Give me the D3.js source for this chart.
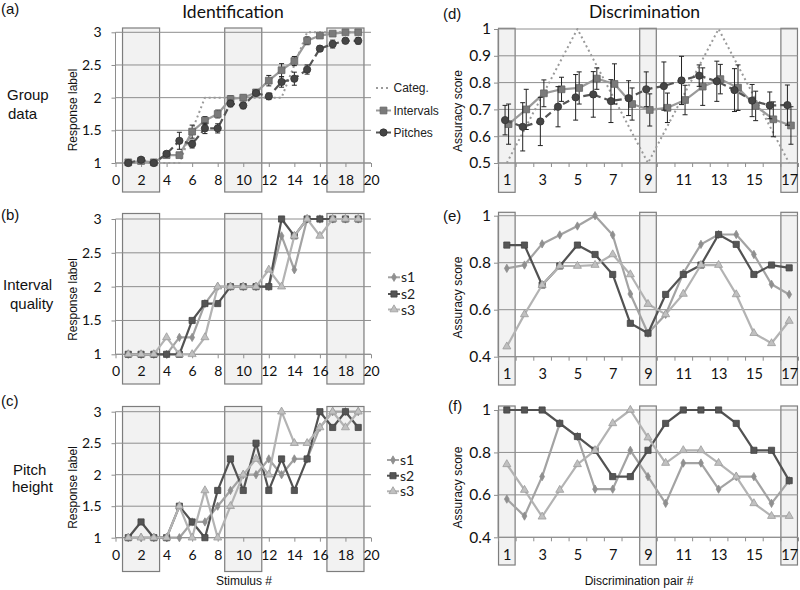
<!DOCTYPE html>
<html><head><meta charset="utf-8">
<script src="https://cdn.jsdelivr.net/npm/d3@7"></script>
<style>body{margin:0;background:#fff}svg{display:block}</style>
</head><body>
<svg id="chart" width="800" height="590"></svg>
<script>
// ---------- DATA ----------
const stimuli = [1,2,3,4,5,6,7,8,9,10,11,12,13,14,15,16,17,18,19];
const pairs = [1,2,3,4,5,6,7,8,9,10,11,12,13,14,15,16,17];
const xTicksLeft = [0,2,4,6,8,10,12,14,16,18,20];
const yTicksLeft = [1,1.5,2,2.5,3];
const xLabelsRight = [1,3,5,7,9,11,13,15,17];
const yTicksD = [0.5,0.6,0.7,0.8,0.9,1];
const yTicksEF = [0.4,0.6,0.8,1];
const boxStimuli = [[1,3],[9,11],[17,19]];
const boxPairs = [1,9,17];
const legendA = ["Categ.","Intervals","Pitches"];
const legendS = ["s1","s2","s3"];

// (a) group identification
const categA     = [1,1,1,1,1,1.5,2,2,2,2,2,2,2,2.5,3,3,3,3,3];
const intervalsA = [1.01,1.03,1.01,1.12,1.12,1.48,1.65,1.75,1.98,2.0,2.08,2.26,2.42,2.56,2.87,2.95,2.98,3.0,3.0];
const intervalsAErr = [0.02,0.03,0.02,0.03,0.03,0.1,0.06,0.06,0.05,0.04,0.04,0.08,0.1,0.07,0.06,0.03,0.03,0.02,0.02];
const pitchesA   = [1.0,1.05,1.0,1.14,1.34,1.29,1.53,1.53,1.91,1.88,2.07,2.02,2.24,2.29,2.43,2.75,2.82,2.87,2.87];
const pitchesAErr = [0.02,0.03,0.02,0.04,0.13,0.06,0.08,0.07,0.05,0.05,0.04,0.05,0.08,0.1,0.07,0.04,0.06,0.04,0.05];

// (b) interval quality
const bS1 = [1,1,1,1,1.25,1.25,1.75,2,2,2,2,2,2.75,2.25,3,3,3,3,3];
const bS2 = [1,1,1,1,1,1.5,1.75,1.75,2,2,2,2,3,2.75,3,3,3,3,3];
const bS3 = [1,1,1,1.25,1,1,1.25,2,2,2,2,2.25,2,2.75,3,2.75,3,3,3];

// (c) pitch height
const cS1 = [1,1,1,1,1,1.25,1.25,1.5,1.75,2,2,2.25,2,2.25,2.25,2.75,3,3,3];
const cS2 = [1,1.25,1,1,1.5,1.25,1,1.75,2.25,1.75,2.5,1.75,2.25,1.75,2.25,3,2.75,3,2.75];
const cS3 = [1,1,1,1,1.5,1,1.75,1,1.5,2,2.25,2,3,2.5,2.5,2.75,3,2.75,3];

// (d) group discrimination
const categD = [0.5,0.625,0.75,0.875,1,0.875,0.75,0.625,0.5,0.625,0.75,0.875,1,0.875,0.75,0.625,0.5];
const intervalsD = [0.645,0.70,0.76,0.775,0.78,0.815,0.795,0.72,0.698,0.706,0.735,0.785,0.813,0.781,0.713,0.663,0.64];
const intervalsDErr = [0.075,0.075,0.05,0.045,0.06,0.04,0.075,0.06,0.06,0.055,0.055,0.07,0.055,0.085,0.055,0.065,0.07];
const pitchesD = [0.66,0.635,0.655,0.71,0.745,0.756,0.731,0.742,0.775,0.787,0.808,0.826,0.805,0.772,0.733,0.715,0.716];
const pitchesDErr = [0.055,0.09,0.09,0.075,0.085,0.085,0.08,0.065,0.065,0.09,0.09,0.04,0.075,0.08,0.06,0.05,0.075];

// (e) interval quality discrimination
const eS1 = [0.776,0.79,0.88,0.918,0.956,1.0,0.918,0.667,0.5,0.58,0.755,0.878,0.92,0.92,0.835,0.708,0.665];
const eS2 = [0.875,0.875,0.705,0.786,0.875,0.835,0.75,0.542,0.5,0.665,0.75,0.79,0.92,0.878,0.75,0.79,0.778];
const eS3 = [0.443,0.58,0.705,0.786,0.786,0.79,0.835,0.75,0.624,0.58,0.667,0.79,0.79,0.665,0.5,0.457,0.552];

// (f) pitch height discrimination
const fS1 = [0.58,0.5,0.686,0.937,0.875,0.627,0.627,0.81,0.686,0.56,0.75,0.75,0.627,0.686,0.686,0.56,0.667];
const fS2 = [1,1,1,0.937,0.875,0.81,0.686,0.686,0.81,0.937,1,1,1,0.937,0.81,0.81,0.667];
const fS3 = [0.744,0.623,0.497,0.623,0.744,0.81,0.937,1.0,0.87,0.75,0.81,0.81,0.75,0.686,0.56,0.5,0.5];

// ---------- STYLE ----------
const svg = d3.select("#chart");
const TICKFONT = "Lato, 'Open Sans', sans-serif";
const ARIAL = "'Liberation Sans', Arial, sans-serif";
const GRID = "#8e8e8e";
const S = {
  s1: {line:"#a3a3a3", fill:"#8f8f8f", stroke:"#8f8f8f", sym:d3.symbolDiamond, size:20},
  s2: {line:"#525252", fill:"#555555", stroke:"#444", sym:d3.symbolSquare, size:38},
  s3: {line:"#b3b3b3", fill:"#c0c0c0", stroke:"#9c9c9c", sym:d3.symbolTriangle, size:28},
  cat:{line:"#9a9a9a"},
  int:{line:"#9a9a9a", fill:"#7a7a7a", stroke:"#666", sym:d3.symbolSquare, size:46},
  pit:{line:"#555555", fill:"#454545", stroke:"#333", sym:d3.symbolCircle, size:42}
};

const xL = d3.scaleLinear().domain([0,20]).range([115.5,371]);
const xR = d3.scaleLinear().domain([0.5,17.5]).range([498,798]);

function panel(p) {
  const g = svg.append("g");
  const x = p.x, y = p.y;
  const [x0, x1] = x.domain();
  // shaded boxes
  p.boxes.forEach(b => {
    g.append("rect").attr("x", x(b[0])).attr("y", p.boxTop)
      .attr("width", x(b[1]) - x(b[0])).attr("height", p.boxBottom - p.boxTop)
      .attr("fill", "#f2f2f2").attr("stroke", "#7d7d7d").attr("stroke-width", 1.2);
  });
  // horizontal grid
  g.selectAll(".grid").data(p.yTicks).join("line")
    .attr("x1", x(x0)).attr("x2", x(x1))
    .attr("y1", d => y(d)).attr("y2", d => y(d))
    .attr("stroke", GRID).attr("stroke-width", 1);
  // y axis
  const ya = d3.axisLeft(y).tickValues(p.yTicks).tickSize(4).tickPadding(p.yPad)
    .tickFormat(d => d3.format("")(+d.toFixed(2)));
  const yg = g.append("g").attr("transform", `translate(${x(x0)},0)`).call(ya);
  yg.select(".domain").attr("stroke", GRID).attr("d", `M-0,${y(p.yTicks[0])}V${y(p.yTicks[p.yTicks.length-1])}`);
  yg.selectAll(".tick line").attr("stroke", GRID);
  yg.selectAll("text").attr("font-family", TICKFONT).attr("font-size", p.yFont).attr("fill", "#111");
  // x axis tick marks
  const xa = d3.axisBottom(x).tickValues(p.xTickMarks).tickSize(4).tickFormat("");
  const xg = g.append("g").attr("transform", `translate(0,${y(p.yTicks[0])})`).call(xa);
  xg.select(".domain").attr("stroke", GRID).attr("d", `M${x(x0)},0H${x(x1)}`);
  xg.selectAll(".tick line").attr("stroke", GRID);
  // x labels
  const xl = d3.axisBottom(x).tickValues(p.xLabels).tickSize(0).tickPadding(p.xPad).tickFormat(d3.format("d"));
  const xlg = g.append("g").attr("transform", `translate(0,${y(p.yTicks[0])})`).call(xl);
  xlg.select(".domain").remove();
  xlg.selectAll("text").attr("font-family", TICKFONT).attr("font-size", p.xFont).attr("fill", "#111");

  // series
  p.series.forEach(s => {
    const st = S[s.style];
    const pts = s.cats.map((c, i) => ({c, v: s.values[i], e: s.err ? s.err[i] : null}));
    const line = d3.line().x(d => x(d.c + (s.dx || 0))).y(d => y(d.v));
    g.append("path").datum(pts).attr("d", line).attr("fill", "none")
      .attr("stroke", st.line).attr("stroke-width", s.width || 2.2)
      .attr("stroke-dasharray", s.dash || null).attr("stroke-linejoin", "round");
    if (s.err) {
      pts.forEach(d => {
        const cx = x(d.c + (s.dx || 0));
        g.append("line").attr("x1", cx).attr("x2", cx).attr("y1", y(d.v - d.e)).attr("y2", y(d.v + d.e))
          .attr("stroke", "#222").attr("stroke-width", 1);
        [d.v - d.e, d.v + d.e].forEach(v => g.append("line").attr("x1", cx - 2.5).attr("x2", cx + 2.5)
          .attr("y1", y(v)).attr("y2", y(v)).attr("stroke", "#222").attr("stroke-width", 1));
      });
    }
    if (st.sym) {
      g.selectAll(null).data(pts).join("path")
        .attr("transform", d => `translate(${x(d.c + (s.dx || 0))},${y(d.v)})`)
        .attr("d", d3.symbol(st.sym, st.size))
        .attr("fill", st.fill).attr("stroke", st.stroke).attr("stroke-width", 0.8);
    }
  });
}

const leftBoxes = boxStimuli.map(b => [b[0] - 0.45, b[1] + 0.45]);
const rightBoxes = boxPairs.map(c => [c - 0.47, c + 0.47]);

const common = {
  left: {x: xL, yTicks: yTicksLeft, xTickMarks: xTicksLeft, xLabels: xTicksLeft, boxes: leftBoxes, yPad: 10, yFont: 14, xFont: 14, xPad: 12},
  right: {x: xR, xTickMarks: d3.range(0.5, 17.6, 1), xLabels: xLabelsRight, boxes: rightBoxes, yPad: 3, yFont: 15.5, xFont: 14.5, xPad: 12}
};

// (a)
panel(Object.assign({}, common.left, {
  y: d3.scaleLinear().domain([1,3]).range([163,32.3]), boxTop: 28, boxBottom: 192,
  series: [
    {cats: stimuli, values: categA, style: "cat", dash: "2,3", width: 2},
    {cats: stimuli, values: intervalsA, err: intervalsAErr, style: "int"},
    {cats: stimuli, values: pitchesA, err: pitchesAErr, style: "pit", dash: "7,4", width: 2.2}
  ]
}));
// (b)
panel(Object.assign({}, common.left, {
  y: d3.scaleLinear().domain([1,3]).range([354.3,219]), boxTop: 213.5, boxBottom: 384,
  series: [
    {cats: stimuli, values: bS1, style: "s1"},
    {cats: stimuli, values: bS2, style: "s2"},
    {cats: stimuli, values: bS3, style: "s3"}
  ]
}));
// (c)
panel(Object.assign({}, common.left, {
  y: d3.scaleLinear().domain([1,3]).range([537.7,411.7]), boxTop: 406.5, boxBottom: 571.5,
  series: [
    {cats: stimuli, values: cS1, style: "s1"},
    {cats: stimuli, values: cS2, style: "s2"},
    {cats: stimuli, values: cS3, style: "s3"}
  ]
}));
// (d)
panel(Object.assign({}, common.right, {
  y: d3.scaleLinear().domain([0.5,1]).range([163,29]), yTicks: yTicksD, boxTop: 28.3, boxBottom: 192.3,
  series: [
    {cats: pairs, values: categD, style: "cat", dash: "2,3", width: 2},
    {cats: pairs, values: intervalsD, err: intervalsDErr, style: "int", dx: 0.1},
    {cats: pairs, values: pitchesD, err: pitchesDErr, style: "pit", dash: "7,4", width: 2.2, dx: -0.1}
  ]
}));
// (e)
panel(Object.assign({}, common.right, {
  y: d3.scaleLinear().domain([0.4,1]).range([356.7,215.7]), yTicks: yTicksEF, boxTop: 212.3, boxBottom: 385,
  series: [
    {cats: pairs, values: eS1, style: "s1"},
    {cats: pairs, values: eS2, style: "s2"},
    {cats: pairs, values: eS3, style: "s3"}
  ]
}));
// (f)
panel(Object.assign({}, common.right, {
  y: d3.scaleLinear().domain([0.4,1]).range([537.3,410]), yTicks: yTicksEF, boxTop: 406, boxBottom: 565,
  series: [
    {cats: pairs, values: fS1, style: "s1"},
    {cats: pairs, values: fS2, style: "s2"},
    {cats: pairs, values: fS3, style: "s3"}
  ]
}));

// ---------- TEXT ----------
function txt(t, x, y, opt) {
  const o = Object.assign({size: 15, font: ARIAL, anchor: "start", fill: "#111"}, opt || {});
  return svg.append("text").attr("x", x).attr("y", y).attr("font-family", o.font)
    .attr("font-size", o.size).attr("text-anchor", o.anchor).attr("fill", o.fill).text(t);
}
txt("Identification", 233, 18, {size: 17.5, font: TICKFONT, anchor: "middle"});
txt("Discrimination", 644.5, 18, {size: 17.5, font: TICKFONT, anchor: "middle"});
txt("(a)", 1, 14);
txt("(b)", 1, 219.5);
txt("(c)", 1, 405.5);
txt("(d)", 443, 19);
txt("(e)", 443, 221);
txt("(f)", 448, 411);
txt("Group", 7, 99.5);
txt("data", 8, 118.5);
txt("Interval", 3, 289.5);
txt("quality", 10, 309);
txt("Pitch", 13, 474.5);
txt("height", 12, 491.5);
txt("Stimulus #", 244, 585, {size: 12, anchor: "middle"});
txt("Discrimination pair #", 639, 585, {size: 12, anchor: "middle"});

[[110, "Response label", 73], [299.5, "Response label", 73], [487.5, "Response label", 73],
 [111, "Assuracy score", 458], [297.5, "Assuracy score", 458], [487.5, "Assuracy score", 458]]
 .forEach(([cy, t, cx]) => {
  svg.append("text").attr("transform", `translate(${cx},${cy}) rotate(-90)`)
    .attr("text-anchor", "middle").attr("dy", "0.35em")
    .attr("font-family", ARIAL).attr("font-size", 12).attr("fill", "#111").text(t);
 });

// legend (a)
const legA = [{key: "cat", dash: "2,3", y: 88}, {key: "int", y: 110.5}, {key: "pit", dash: "7,4", y: 132.5}];
legA.forEach((l, i) => {
  const st = S[l.key];
  svg.append("line").attr("x1", 376).attr("x2", 391).attr("y1", l.y).attr("y2", l.y)
    .attr("stroke", st.line).attr("stroke-width", 2).attr("stroke-dasharray", l.dash || null);
  if (st.sym) svg.append("path").attr("transform", `translate(383.5,${l.y})`)
    .attr("d", d3.symbol(st.sym, st.size)).attr("fill", st.fill).attr("stroke", st.stroke).attr("stroke-width", 0.8);
  txt(legendA[i], 393.5, l.y + 4, {size: 12, fill: "#222"});
});
// legends (b),(c)
[[277.3, 294, 309.5, 388], [460, 475.7, 491.3, 387]].forEach(ys => {
  legendS.forEach((name, i) => {
    const st = S[name];
    const yy = ys[i], lx = ys[3];
    svg.append("line").attr("x1", lx).attr("x2", lx + 12).attr("y1", yy).attr("y2", yy)
      .attr("stroke", st.line).attr("stroke-width", 2);
    svg.append("path").attr("transform", `translate(${lx + 6},${yy})`)
      .attr("d", d3.symbol(st.sym, st.size)).attr("fill", st.fill).attr("stroke", st.stroke).attr("stroke-width", 0.8);
    txt(name, lx + 13, yy + 5, {size: 14, font: TICKFONT, fill: "#222"});
  });
});
</script>
</body></html>
